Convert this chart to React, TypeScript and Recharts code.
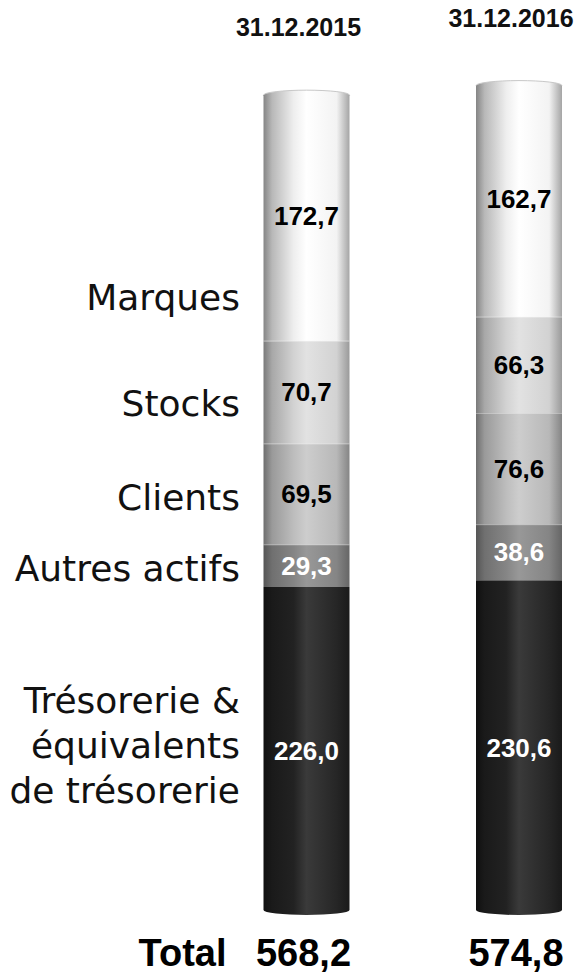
import { BarChart, Bar, XAxis, YAxis, LabelList } from 'recharts';

// values in millions
const dates = ['31.12.2015', '31.12.2016'];
const tresorerie = [226.0, 230.6];
const autresActifs = [29.3, 38.6];
const clients = [69.5, 76.6];
const stocks = [70.7, 66.3];
const marques = [172.7, 162.7];

// left-hand category captions and the value each one sits against
const categoryLines = [
  ['Trésorerie &', 'équivalents', 'de trésorerie'],
  ['Autres actifs'],
  ['Clients'],
  ['Stocks'],
  ['Marques'],
];
const labelAnchors = [117, 239, 288, 353, 426];

const data = dates.map((date, i) => ({
  date,
  tresorerie: tresorerie[i],
  autres: autresActifs[i],
  clients: clients[i],
  stocks: stocks[i],
  marques: marques[i],
  total: tresorerie[i] + autresActifs[i] + clients[i] + stocks[i] + marques[i],
}));

const series = [
  { key: 'tresorerie', text: '#fff', stops: ['#101010', '#1a1a1a', '#222', '#3a3a3a', '#262626', '#1a1a1a'] },
  { key: 'autres', text: '#fff', stops: ['#555', '#707070', '#858585', '#989898', '#858585', '#666'] },
  { key: 'clients', text: '#000', stops: ['#6e6e6e', '#9a9a9a', '#bdbdbd', '#cdcdcd', '#b8b8b8', '#858585'] },
  { key: 'stocks', text: '#000', stops: ['#7a7a7a', '#a8a8a8', '#d2d2d2', '#e2e2e2', '#d2d2d2', '#9a9a9a'] },
  { key: 'marques', text: '#000', stops: ['#858585', '#b8b8b8', '#eeeeee', '#ffffff', '#f3f3f3', '#a5a5a5'] },
];
const stopOffsets = ['0%', '10%', '35%', '50%', '85%', '100%'];

const fmt = (v: number) => v.toFixed(1).replace('.', ',');
const boldFont = '"Liberation Sans", Arial, sans-serif';

function Cylinder(props: any) {
  const { x, y, width: w, height: h, fill, top, bottom } = props;
  if (!w || !h) return null;
  const ry = 5;
  const rx = w / 2;
  let d: string;
  if (top) {
    d = `M${x},${y + ry} A${rx},${ry} 0 0 1 ${x + w},${y + ry} L${x + w},${y + h} L${x},${y + h} Z`;
  } else if (bottom) {
    d = `M${x},${y} L${x + w},${y} L${x + w},${y + h - ry} A${rx},${ry} 0 0 1 ${x},${y + h - ry} Z`;
  } else {
    d = `M${x},${y} L${x + w},${y} L${x + w},${y + h} L${x},${y + h} Z`;
  }
  return (
    <g>
      <path d={d} fill={fill} />
      {top && (
        <path d={`M${x},${y + ry} A${rx},${ry} 0 0 1 ${x + w},${y + ry}`} fill="none" stroke="#c8c8c8" strokeWidth={1} />
      )}
      {!bottom && !top && <line x1={x} x2={x + w} y1={y + 0.5} y2={y + 0.5} stroke="rgba(255,255,255,0.35)" />}
    </g>
  );
}

const renderLeftTick = (props: any) => {
  const { y, payload } = props;
  const idx = labelAnchors.indexOf(Number(payload.value));
  const lines = idx >= 0 ? categoryLines[idx] : [];
  const step = 45;
  return (
    <text
      key={`t-${payload.value}`}
      x={240}
      y={y}
      textAnchor="end"
      dominantBaseline="central"
      fontFamily='"DejaVu Sans", sans-serif'
      fontSize={36}
      fill="#111"
    >
      {lines.map((l, i) => (
        <tspan key={i} x={240} dy={i === 0 ? -((lines.length - 1) / 2) * step : step}>
          {l}
        </tspan>
      ))}
    </text>
  );
};

export default function App() {
  return (
    <div style={{ position: 'absolute', left: 0, top: 0, width: 581, height: 973, overflow: 'hidden', background: '#fff' }}>
      <BarChart width={640} height={973} data={data} margin={{ top: 44, right: 0, left: 0, bottom: 58 }}>
        <defs>
          {series.map((s) => (
            <linearGradient key={s.key} id={`g-${s.key}`} x1="0" y1="0" x2="1" y2="0">
              {s.stops.map((c, i) => (
                <stop key={i} offset={stopOffsets[i]} stopColor={c} />
              ))}
            </linearGradient>
          ))}
        </defs>
        <XAxis dataKey="date" hide padding={{ left: 199.5, right: 14.5 }} />
        <YAxis
          type="number"
          domain={[0, 600]}
          width={1}
          ticks={labelAnchors}
          interval={0}
          axisLine={false}
          tickLine={false}
          tick={renderLeftTick}
        />
        {series.map((s, si) => (
          <Bar
            key={s.key}
            dataKey={s.key}
            stackId="a"
            barSize={86}
            fill={`url(#g-${s.key})`}
            isAnimationActive={false}
            shape={(p: any) => <Cylinder {...p} top={si === series.length - 1} bottom={si === 0} />}
          >
            <LabelList
              dataKey={s.key}
              content={(p: any) => (
                <text
                  x={p.x + p.width / 2}
                  y={p.y + p.height / 2}
                  textAnchor="middle"
                  dominantBaseline="central"
                  fontFamily={boldFont}
                  fontWeight="bold"
                  fontSize={26}
                  fill={s.text}
                >
                  {fmt(Number(p.value))}
                </text>
              )}
            />
            {si === series.length - 1 && (
              <LabelList
                dataKey="date"
                content={(p: any) => (
                  <text
                    x={p.x + p.width / 2 - 8}
                    y={p.y - 54}
                    textAnchor="middle"
                    fontFamily={boldFont}
                    fontWeight="bold"
                    fontSize={25}
                    fill="#111"
                  >
                    {p.value}
                  </text>
                )}
              />
            )}
            {si === 0 && (
              <LabelList
                dataKey="total"
                content={(p: any) => (
                  <g>
                    {p.index === 0 && (
                      <text
                        x={p.x - 37}
                        y={p.y + p.height + 51}
                        textAnchor="end"
                        fontFamily={boldFont}
                        fontWeight="bold"
                        fontSize={38}
                        fill="#000"
                      >
                        Total
                      </text>
                    )}
                    <text
                      x={p.x + p.width / 2 - 3}
                      y={p.y + p.height + 51}
                      textAnchor="middle"
                      fontFamily={boldFont}
                      fontWeight="bold"
                      fontSize={38}
                      fill="#000"
                    >
                      {fmt(Number(p.value))}
                    </text>
                  </g>
                )}
              />
            )}
          </Bar>
        ))}
      </BarChart>
    </div>
  );
}
